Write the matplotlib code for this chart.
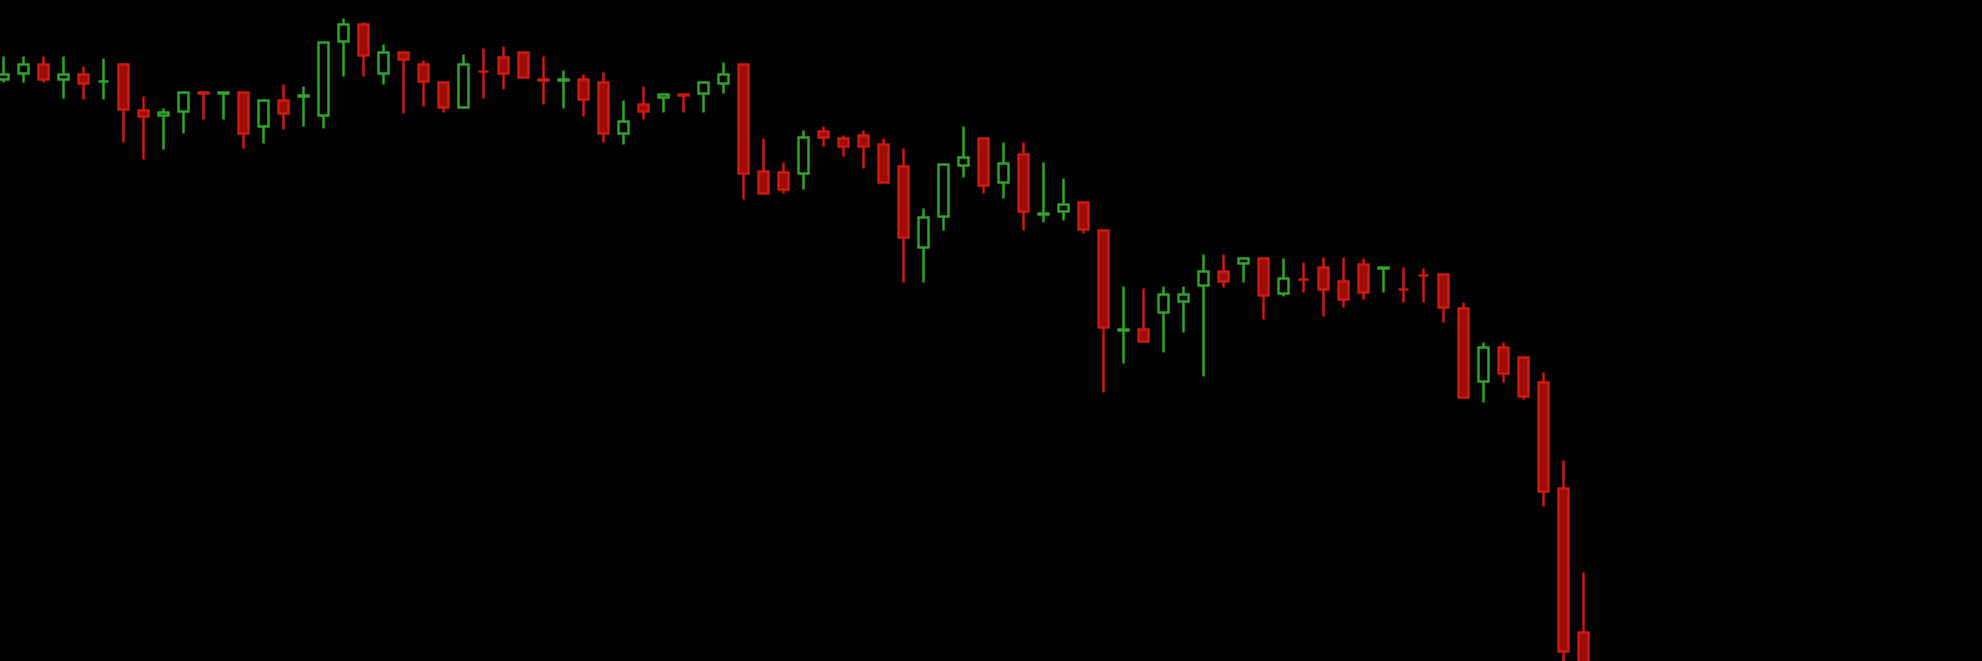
import matplotlib
matplotlib.use("Agg")
import matplotlib.pyplot as plt
from matplotlib.patches import Rectangle

# OHLC values (arbitrary price units)
opens = [582, 588, 597, 582, 587, 580, 597, 551, 546, 550,
         569, 568, 569, 535, 561, 565.5, 546, 620, 637, 588,
         609, 597, 579, 554, 590.5, 604, 609, 582, 581, 582,
         579, 528, 557, 564, 567, 568, 578, 597, 490, 489,
         488, 530, 523, 526, 517, 495, 414, 445, 496, 523,
         479, 507, 447.5, 450, 459, 431, 331.5, 332, 349, 360,
         376, 390, 398, 403, 368, 382.5, 394, 380, 397, 393.5,
         372.5, 386.5, 387, 353, 280, 314, 304, 279, 173, 29]
highs = [605, 605, 605, 605, 595, 603, 597, 565, 553, 569,
         569, 569, 569, 561, 577, 575, 619, 643, 639, 617,
         609, 601, 579, 607, 613, 615, 609, 605, 591, 587,
         589, 561, 575, 567, 567, 579, 599, 597, 523, 499,
         531, 535, 526, 531, 523, 513, 453, 497, 535, 523,
         519, 519, 499, 483, 460, 431, 375, 373, 375, 375,
         407, 407, 404, 403, 403, 399, 404, 404, 403, 394,
         394, 393, 387, 359, 319, 319, 304, 289, 201, 89]
lows = [579, 579, 579, 563, 562, 562, 519, 502, 512, 528,
        542, 542, 513, 518, 532, 535, 533, 585, 585, 577,
        548, 555, 549, 554, 563, 572, 584, 557, 553, 545,
        519, 517, 542, 549, 549, 549, 568, 462, 468, 468,
        472, 515, 505, 493, 479, 379, 379, 431, 484, 468,
        463, 431, 439, 441, 428, 269, 298, 320, 309, 329,
        285, 374, 379, 342, 365, 369, 345, 354, 362, 369,
        359, 359, 339, 264, 259, 279, 262, 155, -14, -79]
closes = [587, 597, 582, 587, 578, 580.5, 552, 545, 549, 569,
          568, 569, 528, 561, 548, 566, 619, 637, 606, 609,
          602, 580, 554, 597, 590, 588, 584, 581.5, 582, 562,
          528, 540, 550, 567, 566, 579, 587, 488, 468, 472,
          524, 524, 515, 515, 479, 424, 444, 497, 504, 476,
          498, 450, 448, 457, 432, 334, 332, 320, 367, 367,
          390, 380, 403, 366, 383, 382, 372, 362, 369, 394,
          372, 386, 354, 264, 314, 288, 265, 170, 10, -64]

UP_EDGE = "#2fa52a"
DOWN_EDGE = "#cc1a10"
DOWN_FILL = "#9e0c05"
BG = "#000000"

fig = plt.figure(figsize=(19.83, 6.61), dpi=100, facecolor=BG)
ax = fig.add_axes([0, 0, 1, 1])
ax.set_facecolor(BG)

body_w = 0.52
for i, (o, h, l, c) in enumerate(zip(opens, highs, lows, closes)):
    up = c >= o
    edge = UP_EDGE if up else DOWN_EDGE
    ax.vlines(i, l, h, color=edge, linewidth=1.8, zorder=1)
    bottom = min(o, c)
    height = max(abs(c - o), 0.3)
    face = BG if up else DOWN_FILL
    ax.add_patch(Rectangle((i - body_w / 2, bottom), body_w, height,
                           facecolor=face, edgecolor=edge, linewidth=1.8,
                           zorder=2))

ax.set_xlim(-0.15, 99.0)
ax.set_ylim(0, 661)
ax.axis("off")

fig.savefig("out.png", dpi=100, facecolor=BG)
